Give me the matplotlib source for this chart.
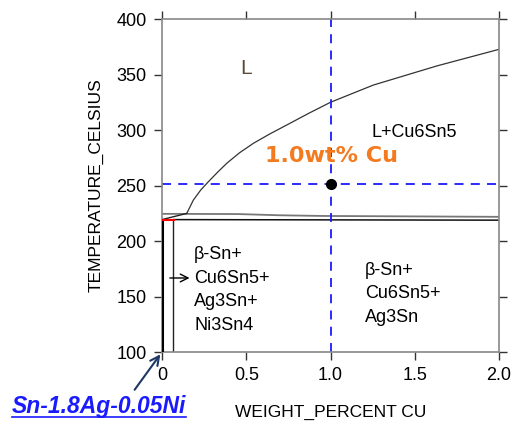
import matplotlib
matplotlib.use("Agg")
import matplotlib.pyplot as plt
from matplotlib.lines import Line2D

plt.rcParams['font.family'] = ['Liberation Sans', 'DejaVu Sans']

# Liquidus (L / L+Cu6Sn5 boundary)
liq_x = [0.147, 0.186, 0.230, 0.275, 0.330, 0.384, 0.460, 0.542, 0.640, 0.740, 0.870, 1.00, 1.254, 1.63, 2.00]
liq_t = [224.9, 236.9, 246.0, 253.4, 262.0, 270.0, 279.5, 288.0, 296.5, 304.5, 315.0, 325.0, 340.5, 357.7, 372.7]
# Upper near-horizontal line (gray)
up_x = [0.0, 0.45, 0.70, 0.95, 2.0]
up_t = [224.5, 224.3, 223.2, 222.6, 221.8]
# Lower near-horizontal line (black)
lo_x = [0.07, 2.0]
lo_t = [219.3, 218.8]
# short diagonal joining lines
dg_x = [0.0, 0.147]
dg_t = [219.3, 224.9]
# red segment
red_x = [0.0, 0.07]
red_t = [219.3, 219.3]
# vertical boundaries
v_bold_x = [0.0, 0.0]
v_bold_t = [100, 219.3]
v_thin_x = [0.065, 0.065]
v_thin_t = [100, 219.3]

marker_x = 1.0
marker_t = 251.5

xticks = [0, 0.5, 1.0, 1.5, 2.0]
xtick_labels = ["0", "0.5", "1.0", "1.5", "2.0"]
yticks = [100, 150, 200, 250, 300, 350, 400]

fig = plt.figure(figsize=(5.14, 4.23), dpi=100)
ax = fig.add_axes([0.3152, 0.1678, 0.6556, 0.7872])
ax.set_xlim(0, 2.0)
ax.set_ylim(100, 400)

for s in ax.spines.values():
    s.set_color('#888888')
    s.set_linewidth(1.2)

ax.set_xticks(xticks)
ax.set_xticklabels(xtick_labels)
ax.set_yticks(yticks)
ax.tick_params(direction='out', length=6, width=1, color='#333333', labelsize=13,
               top=True, right=True, labeltop=False, labelright=False, pad=5)

ax.plot(liq_x, liq_t, color='#333333', lw=0.9)
ax.plot(up_x, up_t, color='#777777', lw=1.3)
ax.plot(lo_x, lo_t, color='#111111', lw=1.1)
ax.plot(dg_x, dg_t, color='#222222', lw=1.0)
ax.plot(v_bold_x, v_bold_t, color='black', lw=2.2, zorder=4)
ax.plot(v_thin_x, v_thin_t, color='#222222', lw=1.0)
ax.plot(red_x, red_t, color='red', lw=1.5, zorder=5)

ax.axvline(marker_x, color='#1a1aff', lw=1.3, ls=(0, (5, 4)))
ax.axhline(marker_t, color='#1a1aff', lw=1.3, ls=(0, (5, 4)))
ax.plot([marker_x], [marker_t], 'o', color='black', ms=7, zorder=6)

ax.text(0.5, 355, "L", fontsize=15, color='#5a4a3a', ha='center', va='center')
ax.text(1.5, 298, "L+Cu6Sn5", fontsize=13, ha='center', va='center')
ax.text(0.611, 276.5, "1.0wt% Cu", fontsize=16, fontweight='bold', color='#f47a20',
        ha='left', va='center', family=['DejaVu Sans'])
ax.text(0.19, 156, "β-Sn+\nCu6Sn5+\nAg3Sn+\nNi3Sn4", fontsize=13, ha='left', va='center',
        linespacing=1.5)
ax.text(1.205, 152.5, "β-Sn+\nCu6Sn5+\nAg3Sn", fontsize=13, ha='left', va='center',
        linespacing=1.5)
ax.annotate("", xy=(0.18, 166.7), xytext=(0.03, 166.7),
            arrowprops=dict(arrowstyle='->', color='black', lw=1.0, mutation_scale=14))

ax.set_ylabel("TEMPERATURE_CELSIUS", fontsize=12.5, labelpad=9)
ax.set_xlabel("WEIGHT_PERCENT CU", fontsize=12.5, labelpad=15)

t = fig.text(12 / 514, 1 - 412.5 / 423, "Sn-1.8Ag-0.05Ni", fontsize=16.5, fontweight='bold',
             fontstyle='italic', color='#1a1aff', ha='left', va='baseline')
ax.annotate("", xy=(0, 100), xycoords='data', xytext=(133 / 514, 1 - 392 / 423),
            textcoords='figure fraction',
            arrowprops=dict(arrowstyle='->', color='#1f3864', lw=1.5, mutation_scale=16),
            annotation_clip=False)

fig.canvas.draw()
bb = t.get_window_extent().transformed(fig.transFigure.inverted())
uy = 1 - 416.5 / 423
fig.add_artist(Line2D([bb.x0, bb.x1], [uy, uy], transform=fig.transFigure,
                      color='#1a1aff', lw=1.2))

fig.savefig("out.png", dpi=100)
